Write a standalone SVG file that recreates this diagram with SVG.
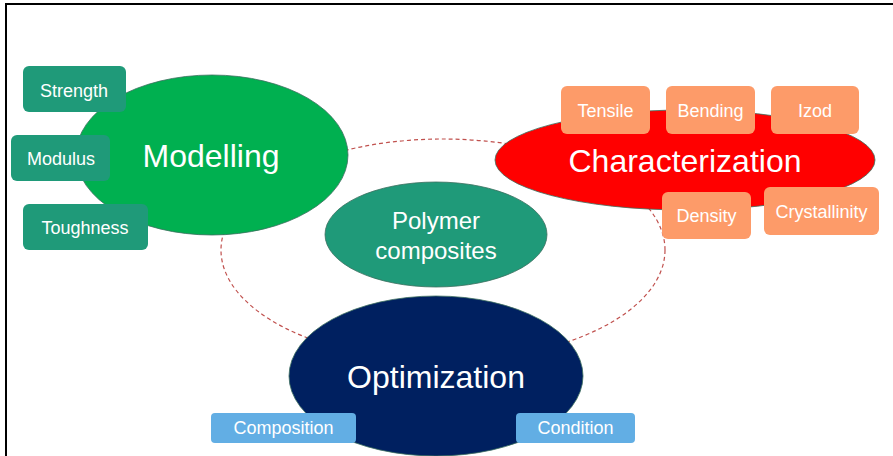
<svg xmlns="http://www.w3.org/2000/svg" width="893" height="456" viewBox="0 0 893 456">
<style>
text{font-family:"Liberation Sans",Arial,sans-serif;fill:#fff;text-anchor:middle}
.big{font-size:32px}
.mid{font-size:24px}
.sm{font-size:18px}
.teal{fill:#1F9A79}
.org{fill:#FD9B69}
.blu{fill:#62AEE4}
.ell{stroke:#3B6E5E;stroke-width:0.8}
</style>
<rect x="0" y="0" width="893" height="456" fill="#fff"/>
<g id="frame">
<line x1="5" y1="4" x2="893" y2="4" stroke="#000" stroke-width="2"/>
<line x1="6" y1="3" x2="6" y2="456" stroke="#000" stroke-width="2"/>
</g>
<g id="connectors">
<ellipse cx="443" cy="250" rx="222" ry="111" fill="none" stroke="#C0504D" stroke-width="1.2" stroke-dasharray="4,3"/>
</g>
<g id="modelling">
<ellipse class="ell" cx="212" cy="155" rx="136" ry="80" fill="#00B050"/>
<text class="big" x="211" y="167">Modelling</text>
</g>
<g id="strength"><rect class="teal" x="23" y="66" width="103" height="46" rx="6"/><text class="sm" x="74" y="97">Strength</text></g>
<g id="modulus"><rect class="teal" x="11" y="135" width="99" height="46" rx="6"/><text class="sm" x="61" y="165">Modulus</text></g>
<g id="toughness"><rect class="teal" x="23" y="204" width="125" height="46" rx="6"/><text class="sm" x="85" y="234">Toughness</text></g>
<g id="polymer">
<ellipse class="ell" cx="436" cy="234.5" rx="111" ry="52.5" fill="#1F9A79"/>
<text class="mid" x="436" y="229">Polymer</text>
<text class="mid" x="436" y="259">composites</text>
</g>
<g id="characterization">
<ellipse class="ell" cx="685" cy="160" rx="190" ry="50" fill="#FF0000"/>
<text class="big" x="685" y="172">Characterization</text>
</g>
<g id="tensile"><rect class="org" x="561" y="86" width="89" height="48" rx="6"/><text class="sm" x="605.5" y="117">Tensile</text></g>
<g id="bending"><rect class="org" x="666" y="86" width="89" height="48" rx="6"/><text class="sm" x="710.5" y="117">Bending</text></g>
<g id="izod"><rect class="org" x="771" y="86" width="88" height="48" rx="6"/><text class="sm" x="815" y="117">Izod</text></g>
<g id="density"><rect class="org" x="662" y="192" width="89" height="47" rx="6"/><text class="sm" x="706.5" y="222">Density</text></g>
<g id="crystallinity"><rect class="org" x="764" y="187" width="115" height="48" rx="6"/><text class="sm" x="821.5" y="218">Crystallinity</text></g>
<g id="optimization">
<ellipse class="ell" cx="436" cy="376" rx="147" ry="80" fill="#002060"/>
<text class="big" x="436" y="388">Optimization</text>
</g>
<g id="composition"><rect class="blu" x="211" y="413" width="145" height="30" rx="4"/><text class="sm" x="283.5" y="434">Composition</text></g>
<g id="condition"><rect class="blu" x="516" y="413" width="119" height="30" rx="4"/><text class="sm" x="575.5" y="434">Condition</text></g>
</svg>
